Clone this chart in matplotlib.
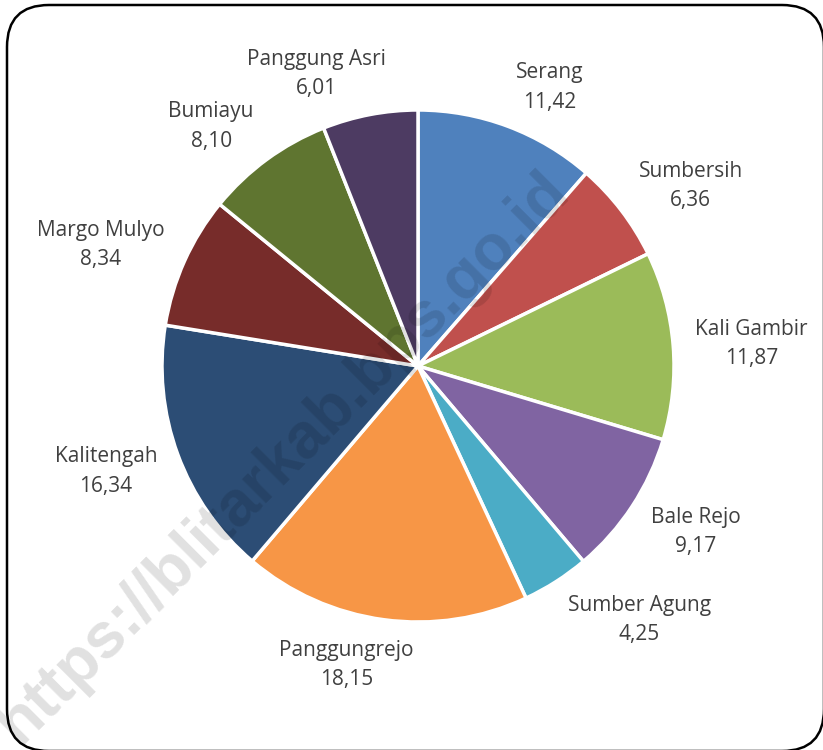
import numpy as np
import matplotlib.pyplot as plt
from matplotlib.patches import FancyBboxPatch

# share per village (percent)
villages = ['Serang', 'Sumbersih', 'Kali Gambir', 'Bale Rejo', 'Sumber Agung',
            'Panggungrejo', 'Kalitengah', 'Margo Mulyo', 'Bumiayu', 'Panggung Asri']
values = [11.42, 6.36, 11.87, 9.17, 4.25, 18.15, 16.34, 8.34, 8.10, 6.01]
colors = ['#4F81BD', '#C0504D', '#9BBB59', '#8064A2', '#4BACC6',
          '#F79646', '#2C4D75', '#772C2A', '#5F7530', '#4D3B62']

W, H = 823, 750
cx, cy, R = 418, H - 366, 256

fig = plt.figure(figsize=(W / 100, H / 100), dpi=100)
ax = fig.add_axes([0, 0, 1, 1])

wedges, _ = ax.pie(values, colors=colors, startangle=90, counterclock=False,
                   center=(cx, cy), radius=R, frame=True,
                   wedgeprops=dict(edgecolor='white', linewidth=2.5))
ax.set_xlim(0, W)
ax.set_ylim(0, H)
ax.set_aspect('equal')
ax.axis('off')

# labels outside, box pushed away from the pie like excel does
renderer = fig.canvas.get_renderer()
for w, name, v in zip(wedges, villages, values):
    th = np.deg2rad((w.theta1 + w.theta2) / 2)
    px, py = cx + 278 * np.cos(th), cy + 278 * np.sin(th)
    lab = f'{name}\n{v:.2f}'.replace('.', ',')
    t = ax.text(px, py, lab, ha='center', va='center', fontsize=15,
                color='#404040', family='Open Sans', linespacing=1.53)
    bb = t.get_window_extent(renderer)
    fx = np.clip(3.8 * np.cos(th), -1.0, 1.0)
    fy = 0.85 * np.sin(th)
    t.set_position((px + fx * bb.width / 2, py + fy * bb.height / 2 - 2))

# rounded frame, runs off the right and bottom edge
box = FancyBboxPatch((7, -1), W - 6, H - 4, boxstyle='round,pad=0,rounding_size=42',
                     fill=False, edgecolor='black', linewidth=1.8, zorder=5,
                     clip_on=False)
ax.add_patch(box)

# watermark
ax.text(283, H - 458, 'https://blitarkab.bps.go.id', rotation=45,
        ha='center', va='center', fontsize=46, fontweight='bold',
        family='Liberation Sans', color='black', alpha=0.12, zorder=6,
        rotation_mode='anchor')

fig.savefig('out.png', dpi=100)
